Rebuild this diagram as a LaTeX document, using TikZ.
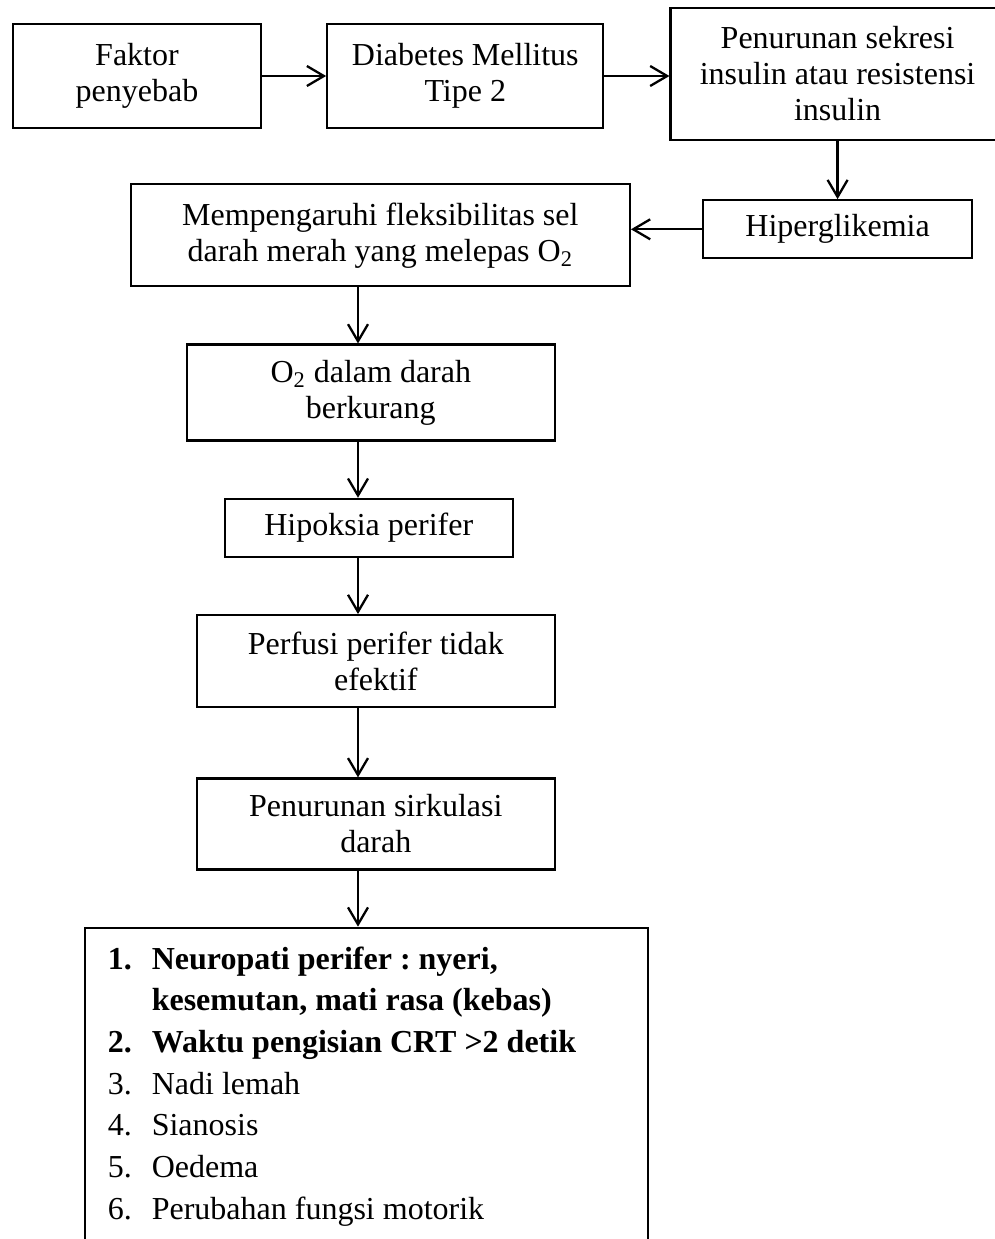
\documentclass[tikz,border=0pt]{standalone}
\usepackage{fontspec}
\setmainfont{Liberation Serif}
\usepackage{tikz}
\usetikzlibrary{arrows.meta,positioning}

\newcommand{\butir}[1]{\makebox[22pt][l]{#1}}

\begin{document}
\frenchspacing
\begin{tikzpicture}[
  >={Straight Barb[length=8.5pt,width=10pt]},
  line width=1.15pt,
  box/.style={draw, rectangle, align=center, inner sep=2pt,
              font=\fontsize{16}{18}\selectfont}
]
\useasboundingbox (0,0) rectangle (497.5pt,-619.5pt);

\node (faktor) [box, minimum width=124pt, minimum height=52pt] at (68.5pt,-38pt) {Faktor\\penyebab};
\node (dm)      [box, right=32pt of faktor, minimum width=138pt, minimum height=52pt] {Diabetes Mellitus\\Tipe 2};
\node (sekresi) [box, right=32.5pt of dm, yshift=1pt, minimum width=167pt, minimum height=66pt] {Penurunan sekresi\\insulin atau resistensi\\insulin};
\node (hiper)   [box, below=29pt of sekresi, minimum width=134.5pt, minimum height=29pt] {Hiperglikemia};
\node (fleksi)  [box, left=35.5pt of hiper, yshift=-3pt, minimum width=249.5pt, minimum height=51pt] {Mempengaruhi fleksibilitas sel\\darah merah yang melepas O\textsubscript{2}};

\node (oksigen)  [box, below=28pt of fleksi, xshift=-4.75pt, minimum width=184pt, minimum height=48pt] {O\textsubscript{2} dalam darah\\berkurang};
\node (hipoksia) [box, below=28pt of oksigen, xshift=-1pt, minimum width=144pt, minimum height=29pt] {Hipoksia perifer};
\node (perfusi)  [box, below=28pt of hipoksia, xshift=3.5pt, minimum width=179pt, minimum height=46pt] {Perfusi perifer tidak\\efektif};
\node (sirkulasi)[box, below=34.5pt of perfusi, minimum width=179pt, minimum height=45.5pt] {Penurunan sirkulasi\\darah};

% kotak tanda dan gejala
\node (gejala) [draw, below=28pt of sirkulasi, xshift=-4.75pt, minimum width=281.5pt, minimum height=190pt] {};
\node (daftar) [anchor=north west, align=left, inner sep=0pt, font=\fontsize{16}{20.85}\selectfont]
  at ([xshift=11.5pt,yshift=-9.4pt]gejala.north west)
  {\textbf{\butir{1.}Neuropati perifer : nyeri,}\\
   \textbf{\butir{}kesemutan, mati rasa (kebas)}\\
   \textbf{\butir{2.}Waktu pengisian CRT >2 detik}\\
   \butir{3.}Nadi lemah\\
   \butir{4.}Sianosis\\
   \butir{5.}Oedema\\
   \butir{6.}Perubahan fungsi motorik};

\coordinate (poros) at (179pt,0);

\draw[->] (faktor.east) -- (dm.west);
\draw[->] (dm.east) -- (dm.east -| sekresi.west);
\draw[->] (sekresi.south -| hiper.north) -- (hiper.north);
\draw[->] (hiper.west) -- (hiper.west -| fleksi.east);
\draw[->] (fleksi.south -| poros) -- (oksigen.north -| poros);
\draw[->] (oksigen.south -| poros) -- (hipoksia.north -| poros);
\draw[->] (hipoksia.south -| poros) -- (perfusi.north -| poros);
\draw[->] (perfusi.south -| poros) -- (sirkulasi.north -| poros);
\draw[->] (sirkulasi.south -| poros) -- (gejala.north -| poros);
\end{tikzpicture}
\end{document}
